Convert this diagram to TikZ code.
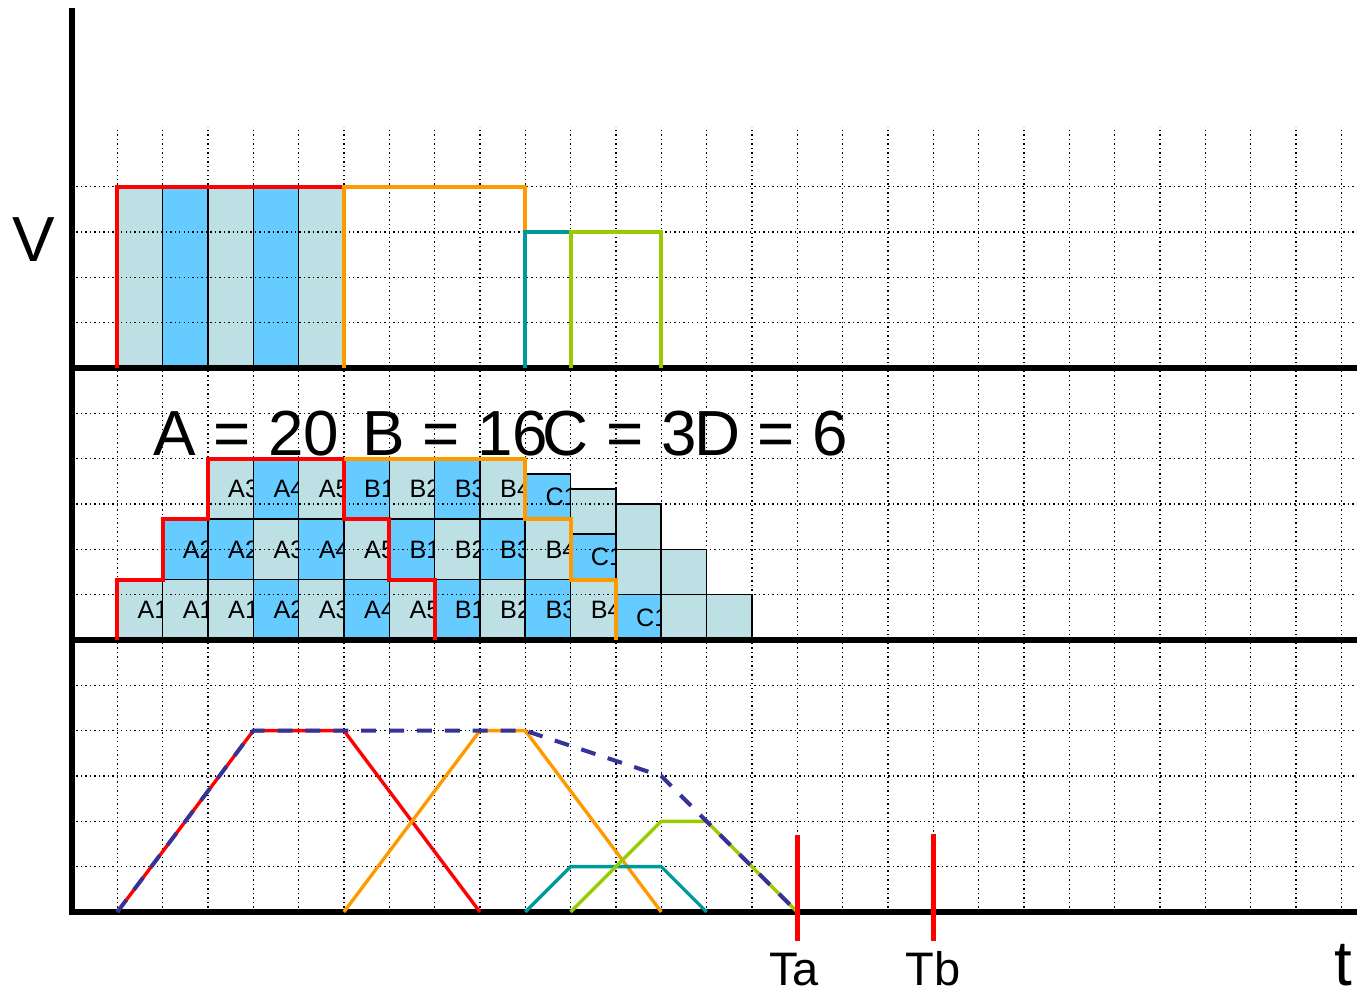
\documentclass[tikz,border=0pt]{standalone}
\usepackage{fontspec}
\setmainfont{Liberation Sans}
\definecolor{cellLight}{RGB}{188,224,227}
\definecolor{cellBlue}{RGB}{102,204,255}
\definecolor{runRed}{RGB}{255,0,0}
\definecolor{runOrange}{RGB}{255,153,0}
\definecolor{runTeal}{RGB}{0,153,153}
\definecolor{runGreen}{RGB}{153,204,0}
\definecolor{runNavy}{RGB}{51,51,153}
\begin{document}
\begin{tikzpicture}[
  axis/.style={line width=3.7pt},
  gridline/.style={line width=0.9pt,dash pattern=on 0.9pt off 1.9pt},
  outline/.style={line width=2.5pt},
  ramp/.style={line width=2.1pt},
  envelope/.style={line width=2.5pt,runNavy,dash pattern=on 9.4pt off 8.1pt},
  block/.style={draw=black,line width=1pt},
  cell label/.style={font=\fontsize{15.8}{17}\selectfont,anchor=base west,inner sep=0pt},
  big label/.style={font=\fontsize{40}{44}\selectfont,anchor=base west,inner sep=0pt},
  time label/.style={font=\fontsize{29.5}{32}\selectfont,anchor=base,inner sep=0pt},
  marker/.style={runRed,line width=3.1pt}
]
\useasboundingbox (-1.588,-1.743) rectangle (28.348,20.119);

% Top panel: the five stripes of run A.
\foreach \x/\f in {1/cellLight,2/cellBlue,3/cellLight,4/cellBlue,5/cellLight}
  \fill[\f] (\x,12) rectangle ++(1,4);
\foreach \x in {2,...,5}
  \draw[line width=1pt] (\x,12) -- (\x,16);

% Middle panel: queued A and B blocks, three rows of height 4/3.
\foreach \c/\r/\t/\f in {
  1/0/A1/cellLight,2/0/A1/cellLight,3/0/A1/cellLight,4/0/A2/cellBlue,
  5/0/A3/cellLight,6/0/A4/cellBlue,7/0/A5/cellLight,8/0/B1/cellBlue,
  9/0/B2/cellLight,10/0/B3/cellBlue,11/0/B4/cellLight,
  2/1/A2/cellBlue,3/1/A2/cellBlue,4/1/A3/cellLight,5/1/A4/cellBlue,
  6/1/A5/cellLight,7/1/B1/cellBlue,8/1/B2/cellLight,9/1/B3/cellBlue,
  10/1/B4/cellLight,
  3/2/A3/cellLight,4/2/A4/cellBlue,5/2/A5/cellLight,6/2/B1/cellBlue,
  7/2/B2/cellLight,8/2/B3/cellBlue,9/2/B4/cellLight} {
  \filldraw[block,fill=\f] (\c,{6+\r*4/3}) rectangle ++(1,4/3);
  \node[cell label] (q\c-\r) at (\c+0.44,{6+\r*4/3+2/3-0.2}) {\t};
}

% C blocks (unit height) stacked on the staircase.
\foreach \c/\y in {10/8.667,11/7.333,12/6} {
  \filldraw[block,fill=cellBlue] (\c,\y) rectangle ++(1,1);
  \node[cell label] (c\c) at (\c+0.44,\y+0.3) {C1};
}

% D blocks, no labels.
\foreach \c/\y in {11/8.333,12/7,12/8,13/6,13/7,14/6}
  \filldraw[block,fill=cellLight] (\c,\y) rectangle ++(1,1);

% Dotted grid over everything.
\foreach \x in {1,...,28}
  \draw[gridline] (\x,0) -- (\x,17.32);
\foreach \y in {1,2,3,4,5,7,8,9,10,11,13,14,15,16}
  \draw[gridline] (0,\y) -- (28.348,\y);

% Axes.
\draw[axis] (0,19.94) -- (0,0) -- (28.348,0);
\draw[axis] (0,6) -- (28.348,6);
\draw[axis] (0,12) -- (28.348,12);

% Top panel outlines.
\draw[outline,runRed] (1,12) -- (1,16) -- (6,16);
\draw[outline,runOrange] (6,12) -- (6,16) -- (10,16) -- (10,15);
\draw[outline,runTeal] (10,12) -- (10,15) -- (11,15);
\draw[outline,runGreen] (11,12) -- (11,15) -- (13,15) -- (13,12);

% Middle panel staircases.
\draw[outline,runRed] (1,6) -- (1,7.333) -- (2,7.333) -- (2,8.667) -- (3,8.667)
  -- (3,10) -- (6,10) -- (6,8.667) -- (7,8.667) -- (7,7.333) -- (8,7.333) -- (8,6);
\draw[outline,runOrange] (6,10) -- (10,10) -- (10,8.667) -- (11,8.667)
  -- (11,7.333) -- (12,7.333) -- (12,6);

% Bottom panel: speed ramps and dashed envelope.
\draw[ramp,runRed] (1,0) -- (4,4) -- (6,4) -- (9,0);
\draw[ramp,runOrange] (6,0) -- (9,4) -- (10,4) -- (13,0);
\draw[ramp,runTeal] (10,0) -- (11,1) -- (13,1) -- (14,0);
\draw[ramp,runGreen] (11,0) -- (13,2) -- (14,2) -- (16,0);
\draw[envelope] (1,0) -- (4,4) -- (10,4) -- (13,3) -- (14,2) -- (16,0);

% Time markers.
\draw[marker] (16,1.70) -- (16,-0.65);
\draw[marker] (19,1.72) -- (19,-0.64);

% Labels.
\node[big label] (vlabel) at (-1.32,14.34) {V};
\node[big label] (eqA) at (1.79,10.08) {A = 20};
\node[big label] (eqB) at (6.40,10.08) {B = 16};
\node[big label] (eqC) at (10.38,10.08) {C = 3};
\node[big label] (eqD) at (13.72,10.08) {D = 6};
\node[time label] (ta) at (15.93,-1.62) {Ta};
\node[time label] (tb) at (19.0,-1.62) {Tb};
\node[big label] (tlabel) at (27.85,-1.62) {t};
\end{tikzpicture}
\end{document}
